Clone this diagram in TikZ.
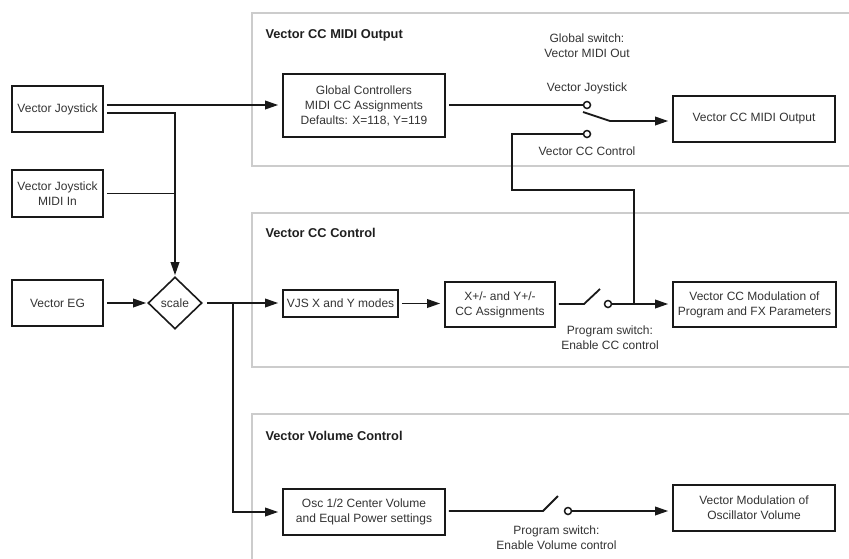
\documentclass[tikz,border=0pt]{standalone}
\usepackage{fontspec}
\setmainfont{Liberation Sans}
\usetikzlibrary{arrows.meta,shapes.geometric,calc}
\begin{document}
\begin{tikzpicture}[x=1pt,y=-1pt,
  box/.style={draw=black!90, line width=1.6pt, align=center, text=black!80, font=\fontsize{12}{15}\selectfont, inner sep=0pt},
  panel/.style={draw=black!20, line width=1.6pt},
  ptitle/.style={anchor=base west, font=\fontsize{12.8}{15}\selectfont\bfseries, text=black!88},
  lab/.style={align=center, text=black!80, font=\fontsize{12}{15}\selectfont},
  conn/.style={line width=1.8pt, draw=black!90},
  arr/.style={conn, -{Triangle[length=13pt,width=8.5pt]}, shorten >=4pt},
  term/.style={circle, draw=black!90, line width=1.5pt, fill=white, minimum size=7pt, inner sep=0pt},
  dia/.style={diamond, draw=black!90, line width=1.6pt, minimum width=54pt, minimum height=52pt, inner sep=0pt, text=black!80, font=\fontsize{12}{15}\selectfont}
]
\clip (0,0) rectangle (849,558);
\fill[white] (0,0) rectangle (849,558);

% panels
\draw[panel] (252,13) rectangle (880,166);
\draw[panel] (252,213) rectangle (880,367);
\draw[panel] (252,414) rectangle (880,600);
\node[ptitle] (t1) at (262,38) {Vector CC MIDI Output};
\node[ptitle] (t2) at (262,237) {Vector CC Control};
\node[ptitle] (t3) at (262,440) {Vector Volume Control};

% boxes
\node[box, minimum width=91pt, minimum height=46pt] (vj) at (57.5,109) {Vector Joystick};
\node[box, minimum width=91pt, minimum height=47pt] (vjm) at (57.5,193.5) {Vector Joystick\\MIDI In};
\node[box, minimum width=91pt, minimum height=46pt] (veg) at (57.5,303) {Vector EG};
\node[dia] (sc) at (175,303) {scale};
\node[box, minimum width=162pt, minimum height=63pt] (gc) at (364,105.5) {Global Controllers\\MIDI CC Assignments\\Defaults: X=118, Y=119};
\node[box, minimum width=162pt, minimum height=46pt] (vcmo) at (754,119) {Vector CC MIDI Output};
\node[box, minimum width=115pt, minimum height=27pt] (vjs) at (340.5,303.5) {VJS X and Y modes};
\node[box, minimum width=110pt, minimum height=45pt] (xy) at (500,304.5) {X+/- and Y+/-\\CC Assignments};
\node[box, minimum width=163pt, minimum height=45pt] (vccm) at (754.5,304.5) {Vector CC Modulation of\\Program and FX Parameters};
\node[box, minimum width=162pt, minimum height=46pt] (osc) at (364,512) {Osc 1/2 Center Volume\\and Equal Power settings};
\node[box, minimum width=162pt, minimum height=46pt] (vmod) at (754,508) {Vector Modulation of\\Oscillator Volume};

% labels
\node[lab] (l1) at (587,45.5) {Global switch:\\Vector MIDI Out};
\node[lab] (l2) at (587,88) {Vector Joystick};
\node[lab] (l3) at (587,151) {Vector CC Control};
\node[lab] (l4) at (610,338) {Program switch:\\Enable CC control};
\node[lab] (l5) at (556.5,537.5) {Program switch:\\Enable Volume control};

% level coordinates
\coordinate (ya) at (0,105);
\coordinate (yb) at (0,113);
\coordinate (j1) at (233,303);
\coordinate (j2) at (634,304);
\coordinate (k1) at (512,190);
\coordinate (s1a) at (584,304);
\coordinate (s1b) at (600,289);
\coordinate (s2a) at (543,511);
\coordinate (s2b) at (558,496);
\coordinate (b1) at (583,112);
\coordinate (b2) at (610,121);

% switch terminals
\node[term] (c1) at (608,304) {};
\node[term] (c2) at (587,105) {};
\node[term] (c3) at (587,134) {};
\node[term] (c4) at (568,511) {};

% connectors
\draw[arr, shorten <=3pt] (vj.east |- ya) -- (gc.west |- ya);
\draw[arr, shorten <=3pt, shorten >=1pt] (vj.east |- yb) -- (sc.north |- yb) -- (sc.north);
\draw[conn, shorten <=3pt] (vjm.east) -- (vjm.east -| sc.north);
\draw[arr, shorten <=3pt, shorten >=1pt] (veg.east) -- (sc.west);
\draw[arr, shorten <=4pt] (sc.east) -- (sc.east -| vjs.west);
\draw[arr] (j1) |- (osc.west);
\draw[arr, shorten <=3pt] (vjs.east) -- (vjs.east -| xy.west);

\draw[conn, shorten <=3pt] (xy.east |- s1a) -- (s1a) -- (s1b);
\draw[arr] (c1.east) -- (c1.east -| vccm.west);

\draw[conn, shorten <=3pt] (gc.east |- c2) -- (c2.west);
\draw[conn] (b1) -- (b2);
\draw[arr] (b2) -- (b2 -| vcmo.west);
\draw[conn] (c3.west) -| (k1) -| (j2);

\draw[conn, shorten <=3pt] (osc.east |- s2a) -- (s2a) -- (s2b);
\draw[arr] (c4.east) -- (c4.east -| vmod.west);
\end{tikzpicture}
\end{document}
